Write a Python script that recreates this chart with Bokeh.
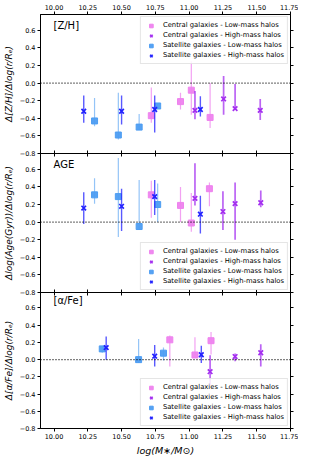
from bokeh.plotting import figure
from bokeh.models import (Range1d, LinearAxis, FixedTicker, Span, Legend, LegendItem,
                          Label, ColumnDataSource)
from bokeh.layouts import column
from bokeh.embed import file_html
from bokeh.resources import INLINE

# ---------------- data ----------------
X_TICKS = [10.0, 10.25, 10.5, 10.75, 11.0, 11.25, 11.5, 11.75]
X_TICK_LABELS = ["10.00", "10.25", "10.50", "10.75", "11.00", "11.25", "11.50", "11.75"]
Y_TICKS = [-0.8, -0.6, -0.4, -0.2, 0.0, 0.2, 0.4, 0.6]
Y_TICK_LABELS = ["\u22120.8", "\u22120.6", "\u22120.4", "\u22120.2", "0.0", "0.2", "0.4", "0.6"]

SERIES_NAMES = ["Central galaxies - Low-mass halos", "Central galaxies - High-mass halos",
                "Satellite galaxies - Low-mass halos", "Satellite galaxies - High-mass halos"]

# [Z/H] panel
zh_cl_x = [10.72, 10.936, 11.016, 11.155]
zh_cl_y = [-0.37, -0.21, -0.08, -0.39]
zh_cl_lo = [-0.45, -0.30, -0.36, -0.51]
zh_cl_hi = [-0.05, -0.11, 0.25, 0.00]
zh_ch_x = [11.043, 11.255, 11.34, 11.526]
zh_ch_y = [-0.31, -0.18, -0.29, -0.31]
zh_ch_lo = [-0.41, -0.36, -0.30, -0.42]
zh_ch_hi = [-0.09, 0.08, -0.01, -0.18]
zh_sl_x = [10.30, 10.476, 10.63, 10.767]
zh_sl_y = [-0.43, -0.59, -0.50, -0.26]
zh_sl_lo = [-0.49, -0.64, -0.53, -0.29]
zh_sl_hi = [-0.17, -0.11, -0.35, -0.24]
zh_sh_x = [10.22, 10.50, 10.745, 11.083]
zh_sh_y = [-0.32, -0.32, -0.30, -0.30]
zh_sh_lo = [-0.45, -0.47, -0.56, -0.38]
zh_sh_hi = [-0.14, -0.14, -0.14, -0.15]

# AGE panel
age_cl_x = [10.72, 10.936, 11.016, 11.15]
age_cl_y = [0.31, 0.19, -0.01, 0.38]
age_cl_lo = [0.05, 0.0, -0.11, 0.18]
age_cl_hi = [0.47, 0.40, 0.33, 0.45]
age_ch_x = [11.043, 11.25, 11.34, 11.53]
age_ch_y = [0.27, 0.12, 0.21, 0.22]
age_ch_lo = [0.19, -0.09, -0.20, 0.17]
age_ch_hi = [0.67, 0.35, 0.45, 0.36]
age_sl_x = [10.30, 10.476, 10.63, 10.767]
age_sl_y = [0.31, 0.29, -0.05, 0.20]
age_sl_lo = [0.21, -0.17, -0.08, 0.0]
age_sl_hi = [0.50, 0.73, 0.48, 0.44]
age_sh_x = [10.22, 10.50, 10.745, 11.083]
age_sh_y = [0.16, 0.18, 0.29, 0.09]
age_sh_lo = [-0.02, -0.10, 0.08, -0.13]
age_sh_hi = [0.34, 0.38, 0.48, 0.30]

# [alpha/Fe] panel
afe_cl_x = [10.857, 11.043, 11.162]
afe_cl_y = [0.23, 0.054, 0.22]
afe_cl_lo = [-0.08, 0.05, 0.06]
afe_cl_hi = [0.28, 0.26, 0.32]
afe_ch_x = [11.155, 11.34, 11.53]
afe_ch_y = [-0.14, 0.036, 0.08]
afe_ch_lo = [-0.30, -0.02, -0.08]
afe_ch_hi = [0.05, 0.07, 0.18]
afe_sl_x = [10.357, 10.626, 10.81]
afe_sl_y = [0.125, 0.0, 0.075]
afe_sl_lo = [0.08, -0.04, -0.01]
afe_sl_hi = [0.16, 0.24, 0.14]
afe_sh_x = [10.386, 10.745, 11.09]
afe_sh_y = [0.14, 0.04, 0.057]
afe_sh_lo = [0.0, -0.08, -0.04]
afe_sh_hi = [0.27, 0.17, 0.16]

# ---------------- styles ----------------
COLORS = ["#ee82ee", "#a42ff0", "#4d9df2", "#2222ff"]
MARKERS = ["square", "x", "square", "x"]
ERR_ALPHA = [0.75, 0.75, 0.6, 0.75]
ERR_WIDTH = [1.2, 1.7, 1.2, 1.4]
FONT = "DejaVu Sans"
W = 298
FH = 139
GAP = 5   # extra bottom room so the lowest tick label is not clipped; overlapped by next panel


def hidden_axis(ticks, tin, tout):
    return LinearAxis(ticker=FixedTicker(ticks=ticks),
                      major_label_overrides={t: "" for t in ticks},
                      major_label_standoff=0, major_label_text_font_size="0px",
                      major_tick_in=tin, major_tick_out=tout,
                      minor_tick_in=0, minor_tick_out=0,
                      axis_line_color="black", major_tick_line_color="black")


def shown_x_axis(label=None):
    ax = LinearAxis(ticker=FixedTicker(ticks=X_TICKS),
                    major_label_overrides={t: s for t, s in zip(X_TICKS, X_TICK_LABELS)},
                    major_label_standoff=2, major_label_text_font_size="6.5px",
                    major_label_text_font=FONT, major_label_text_color="black",
                    major_tick_in=0, major_tick_out=3, minor_tick_in=0, minor_tick_out=0,
                    axis_line_color="black", major_tick_line_color="black")
    if label:
        ax.axis_label = label
        ax.axis_label_text_font = FONT
        ax.axis_label_text_font_style = "italic"
        ax.axis_label_text_font_size = "9.5px"
        ax.axis_label_standoff = 3
        ax.axis_label_text_color = "black"
    return ax


def make_panel(title, ylabel, data, legend_loc, top, bottom):
    bt = 14 if top else 0
    bb = 27 if bottom else GAP
    kw = {}
    if not top:
        kw["margin"] = (-GAP, 0, 0, 0)
    p = figure(width=W, height=FH + bt + bb, x_range=Range1d(9.9, 11.75),
               y_range=Range1d(-0.8, 0.78), output_backend="svg", toolbar_location=None,
               x_axis_location=None, y_axis_location=None,
               min_border_left=34, min_border_right=8, min_border_top=bt, min_border_bottom=bb,
               **kw)
    p.xgrid.grid_line_color = None
    p.ygrid.grid_line_color = None
    p.outline_line_color = "black"
    if top:
        p.background_fill_color = "white"
        p.border_fill_color = "white"
    else:
        p.background_fill_alpha = 0
        p.border_fill_alpha = 0

    yax = LinearAxis(ticker=FixedTicker(ticks=Y_TICKS),
                     major_label_overrides={t: s for t, s in zip(Y_TICKS, Y_TICK_LABELS)},
                     major_label_standoff=2, major_label_text_font_size="6.5px",
                     major_label_text_font=FONT, major_label_text_color="black",
                     major_tick_in=0, major_tick_out=3, minor_tick_in=0, minor_tick_out=0,
                     axis_line_color="black", major_tick_line_color="black",
                     axis_label=ylabel, axis_label_text_font=FONT,
                     axis_label_text_font_style="italic", axis_label_text_font_size="9px",
                     axis_label_standoff=3, axis_label_text_color="black")
    p.add_layout(yax, "left")
    p.add_layout(hidden_axis(Y_TICKS, 0, 3), "right")
    p.add_layout(shown_x_axis() if top else hidden_axis(X_TICKS, 3, 0), "above")
    p.add_layout(shown_x_axis("log(M\u2217/M\u2299)") if bottom else hidden_axis(X_TICKS, 3, 0), "below")

    p.add_layout(Span(location=0, dimension="width", line_color="black",
                      line_dash="1 2", line_width=1.2))

    items = []
    for i, (xs, ys, lo, hi) in enumerate(data):
        src = ColumnDataSource(dict(x=xs, y=ys, lo=lo, hi=hi))
        p.segment(x0="x", y0="lo", x1="x", y1="hi", source=src, line_color=COLORS[i],
                  line_alpha=ERR_ALPHA[i], line_width=ERR_WIDTH[i])
        if MARKERS[i] == "square":
            r = p.scatter(x="x", y="y", source=src, marker="square", size=6,
                          fill_color=COLORS[i], line_color=COLORS[i], fill_alpha=0.95)
        else:
            r = p.scatter(x="x", y="y", source=src, marker="x", size=6.5,
                          line_color=COLORS[i], line_width=1.7)
        items.append(LegendItem(label=SERIES_NAMES[i], renderers=[r]))

    leg = Legend(items=items, location=legend_loc, label_text_font=FONT,
                 label_text_font_size="6.8px", label_text_color="black",
                 glyph_width=14, glyph_height=9, label_height=10, label_standoff=5,
                 spacing=0, padding=3, margin=2, border_line_color="#cccccc",
                 border_line_width=1, background_fill_color="white",
                 background_fill_alpha=0.85)
    p.add_layout(leg)

    p.add_layout(Label(x=13, y=FH - 11, x_units="screen", y_units="screen", text=title,
                       text_font=FONT, text_font_size="10px", text_baseline="middle",
                       text_color="black"))
    return p


p1 = make_panel("[Z/H]", "\u0394[Z/H]/\u0394log(r/R\u2091)",
                [(zh_cl_x, zh_cl_y, zh_cl_lo, zh_cl_hi), (zh_ch_x, zh_ch_y, zh_ch_lo, zh_ch_hi),
                 (zh_sl_x, zh_sl_y, zh_sl_lo, zh_sl_hi), (zh_sh_x, zh_sh_y, zh_sh_lo, zh_sh_hi)],
                "top_right", True, False)
p2 = make_panel("AGE", "\u0394log(Age(Gyr))/\u0394log(r/R\u2091)",
                [(age_cl_x, age_cl_y, age_cl_lo, age_cl_hi), (age_ch_x, age_ch_y, age_ch_lo, age_ch_hi),
                 (age_sl_x, age_sl_y, age_sl_lo, age_sl_hi), (age_sh_x, age_sh_y, age_sh_lo, age_sh_hi)],
                "bottom_right", False, False)
p3 = make_panel("[\u03b1/Fe]", "\u0394[\u03b1/Fe]/\u0394log(r/R\u2091)",
                [(afe_cl_x, afe_cl_y, afe_cl_lo, afe_cl_hi), (afe_ch_x, afe_ch_y, afe_ch_lo, afe_ch_hi),
                 (afe_sl_x, afe_sl_y, afe_sl_lo, afe_sl_hi), (afe_sh_x, afe_sh_y, afe_sh_lo, afe_sh_hi)],
                "bottom_right", False, True)

layout = column(p1, p2, p3, spacing=0)
open("out.html", "w").write(file_html(layout, INLINE))
